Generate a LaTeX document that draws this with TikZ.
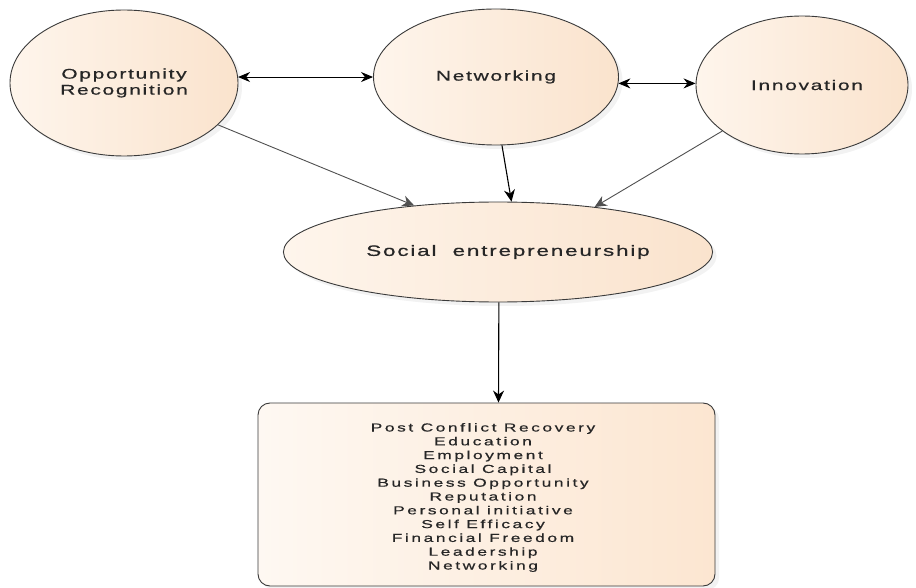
\documentclass[tikz,border=0pt]{standalone}
\usepackage{fontspec}
\setmainfont{Liberation Sans}
\newfontfamily\labA[FakeStretch=1.5,LetterSpace=12,FakeBold=0.6]{Liberation Sans}
\newfontfamily\labB[FakeStretch=1.5,LetterSpace=22,FakeBold=0.6]{Liberation Sans}
\usetikzlibrary{arrows.meta,shapes.geometric,shadows}
\definecolor{peachL}{HTML}{FEF5EC}
\definecolor{peachR}{HTML}{FAE3CD}
\definecolor{boxL}{HTML}{FEF8F2}
\definecolor{boxR}{HTML}{FCE6D1}
\definecolor{edge}{HTML}{3A3A3A}
\definecolor{conn}{HTML}{505050}
\begin{document}
\begin{tikzpicture}[x=1pt,y=-1pt,
  bubble/.style={ellipse,draw=edge,line width=0.9pt,left color=peachL,right color=peachR,
    inner sep=0pt,align=center,text=black!85,
    drop shadow={opacity=0.10,shadow xshift=4pt,shadow yshift=-4pt}},
  listbox/.style={rectangle,rounded corners=12pt,draw=edge,line width=0.9pt,
    left color=boxL,right color=boxR,inner sep=0pt,
    drop shadow={opacity=0.10,shadow xshift=4pt,shadow yshift=-4pt}},
  tip/.style={-{Stealth[length=12pt,width=11pt]}},
  dtip/.style={{Stealth[length=12pt,width=10pt]}-{Stealth[length=12pt,width=10pt]}},
]
\useasboundingbox[fill=white] (0,0) rectangle (916,588);

\node[bubble,minimum width=228pt,minimum height=146pt,font=\labA\fontsize{14pt}{16pt}\selectfont]
  (opp) at (124,83) {Opportunity\\Recognition};
\node[bubble,minimum width=245pt,minimum height=136pt,font=\labA\fontsize{14pt}{16pt}\selectfont]
  (net) at (496,77) {Networking};
\node[bubble,minimum width=212pt,minimum height=138pt,font=\labA\fontsize{14pt}{16pt}\selectfont]
  (inn) at (802,85) {\hspace*{10pt}Innovation};
\node[bubble,minimum width=410pt,minimum height=100pt,font=\labA\fontsize{15pt}{17pt}\selectfont]
  (soc) at (498,252) {\hspace*{20pt}Social\ \ entrepreneurship};
\node[listbox,minimum width=457pt,minimum height=183pt] (box) at (486.5,494.5) {};
\node[align=center,inner sep=0pt,text=black!85,font=\labB\fontsize{11.6pt}{13.8pt}\selectfont]
  (boxtext) at (483,497.5) {Post Conflict Recovery\\Education\\Employment\\Social Capital\\Business Opportunity\\Reputation\\Personal initiative\\Self Efficacy\\Financial Freedom\\Leadership\\Networking};

\draw[dtip,line width=0.9pt,black] (opp.3) -- (opp.3 -| net.west);
\draw[dtip,line width=0.9pt,black] (net.-3) -- (net.-3 -| inn.west);
\draw[tip,line width=0.9pt,conn] (opp.-24) -- (soc.151);
\draw[tip,line width=1.1pt,black] (net.-85) -- (soc.75);
\draw[tip,line width=0.9pt,conn] (inn.-150) -- (soc.25);
\draw[tip,line width=1.1pt,black] (soc.-89) -- ([xshift=12pt]box.north);
\end{tikzpicture}
\end{document}
